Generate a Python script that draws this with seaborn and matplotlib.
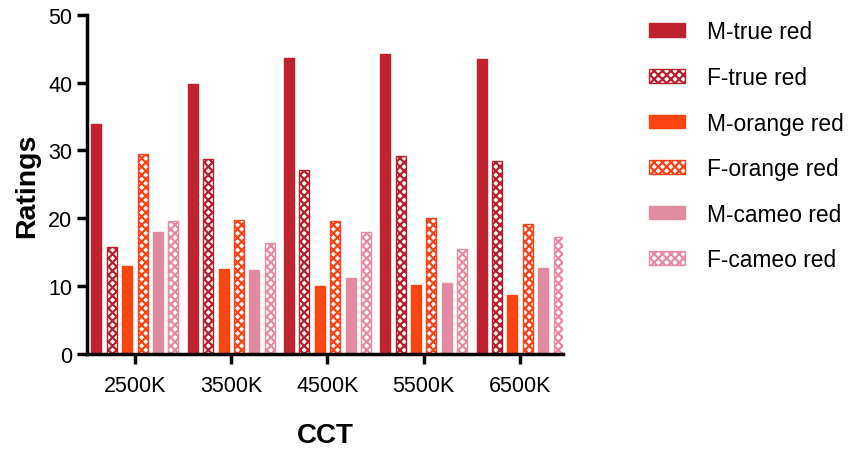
import matplotlib
matplotlib.use("Agg")
import matplotlib.pyplot as plt
import seaborn as sns
import pandas as pd

# datos
cct = ["2500K", "3500K", "4500K", "5500K", "6500K"]
series = ["M-true red", "F-true red", "M-orange red", "F-orange red", "M-cameo red", "F-cameo red"]
m_true_red = [33.9, 39.8, 43.7, 44.2, 43.5]
f_true_red = [15.8, 28.7, 27.1, 29.2, 28.4]
m_orange_red = [13.0, 12.5, 10.0, 10.2, 8.7]
f_orange_red = [29.4, 19.8, 19.6, 20.1, 19.2]
m_cameo_red = [18.0, 12.4, 11.2, 10.4, 12.7]
f_cameo_red = [19.6, 16.4, 18.0, 15.5, 17.3]
colores = ["#C0232F", "#B8202E", "#FA4510", "#F8431A", "#E08BA0", "#E58AA2"]

valores = [m_true_red, f_true_red, m_orange_red, f_orange_red, m_cameo_red, f_cameo_red]
filas = []
for nombre, vals in zip(series, valores):
    for c, v in zip(cct, vals):
        filas.append({"CCT": c, "Serie": nombre, "Ratings": v})
df = pd.DataFrame(filas)

sns.set_style("ticks")
plt.rcParams['font.family'] = ['Liberation Sans', 'DejaVu Sans']
plt.rcParams['hatch.linewidth'] = 1.6

fig = plt.figure(figsize=(8.51, 4.52), dpi=100)
ax = fig.add_axes([0.102, 0.215, 0.56, 0.75])

sns.barplot(data=df, x="CCT", y="Ratings", hue="Serie", hue_order=series,
            palette=colores, saturation=1, width=0.96, gap=0.35, ax=ax, legend=True)

# barras F con patron de cuadros
for i, cont in enumerate(ax.containers):
    for p in cont.patches:
        p.set_linewidth(1.0)
        if series[i].startswith("F"):
            p.set_facecolor("white")
            p.set_edgecolor(colores[i])
            p.set_hatch("xxxx")
        else:
            p.set_edgecolor(colores[i])

ax.set_ylim(0, 50)
ax.set_xlim(-0.5, 4.45)
ax.set_yticks([0, 10, 20, 30, 40, 50])
sns.despine(ax=ax)
for s in ["left", "bottom"]:
    ax.spines[s].set_linewidth(2.5)
    ax.spines[s].set_color("black")
ax.tick_params(axis="both", width=2.5, length=7, labelsize=15.5, colors="black")
ax.tick_params(axis="x", pad=8)
ax.set_ylabel("Ratings", fontsize=20.5, fontweight="bold", labelpad=6, color="black")
ax.set_xlabel("CCT", fontsize=20, fontweight="bold", labelpad=19, color="black")

handles = [c.patches[0] for c in ax.containers]
ax.get_legend().remove()
fig.legend(handles, series, loc="upper left", bbox_to_anchor=(0.738, 0.998),
           frameon=False, fontsize=16.4, labelspacing=0.99, handlelength=1.6,
           handleheight=0.55, handletextpad=0.95, labelcolor="black")

plt.savefig("out.png", dpi=100, facecolor="white")
plt.close()
